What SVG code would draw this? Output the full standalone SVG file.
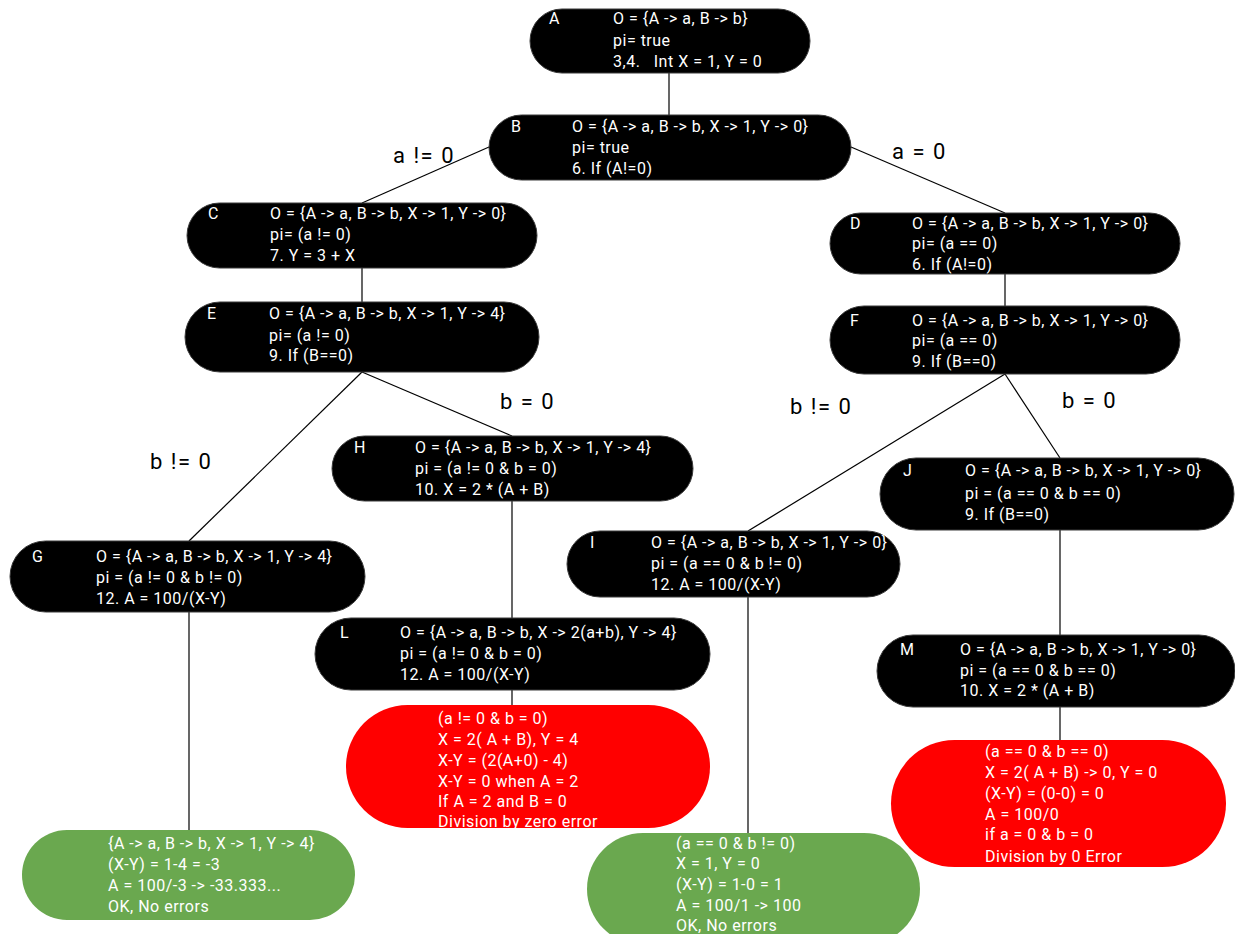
<svg xmlns="http://www.w3.org/2000/svg" width="1235" height="934" viewBox="0 0 1235 934">
  <style>
    .node { fill: #000; stroke: #3a3a3a; stroke-width: 1; }
    .bad { fill: #ff0000; }
    .ok { fill: #6aa84f; }
    .t { font-family: Roboto, "Liberation Sans", sans-serif; font-size: 16px; letter-spacing: 0.5px; fill: #fff; }
    .edge { stroke: #000; stroke-width: 1.2; fill: none; }
    .lbl { font-family: Roboto, "Liberation Sans", sans-serif; font-size: 22px; letter-spacing: 1.5px; fill: #000; }
  </style>
  <rect width="1235" height="934" fill="#fff"/>

  <!-- connectors -->
  <g id="connectors">
    <line class="edge" x1="669" y1="73" x2="669" y2="115"/>
    <line class="edge" x1="489" y1="147" x2="362" y2="203"/>
    <line class="edge" x1="851" y1="147" x2="1005" y2="213"/>
    <line class="edge" x1="362" y1="268" x2="362" y2="302"/>
    <line class="edge" x1="1005" y1="274" x2="1005" y2="306"/>
    <line class="edge" x1="362" y1="372" x2="189" y2="541"/>
    <line class="edge" x1="362" y1="372" x2="512" y2="436"/>
    <line class="edge" x1="1005" y1="374" x2="748" y2="531"/>
    <line class="edge" x1="1005" y1="374" x2="1060" y2="458"/>
    <line class="edge" x1="512" y1="501" x2="512" y2="618"/>
    <line class="edge" x1="512" y1="690" x2="512" y2="705"/>
    <line class="edge" x1="1060" y1="530" x2="1060" y2="635"/>
    <line class="edge" x1="1060" y1="707" x2="1060" y2="740"/>
    <line class="edge" x1="189" y1="612" x2="189" y2="830"/>
    <line class="edge" x1="748" y1="597" x2="748" y2="833"/>
    <text class="lbl" x="393" y="163">a != 0</text>
    <text class="lbl" x="892" y="159">a = 0</text>
    <text class="lbl" x="500" y="409">b = 0</text>
    <text class="lbl" x="150" y="469">b != 0</text>
    <text class="lbl" x="790" y="414">b != 0</text>
    <text class="lbl" x="1062" y="408">b = 0</text>
  </g>

  <g id="nodeA">
    <rect class="node" x="530" y="9" width="280" height="64" rx="32"/>
    <text class="t" x="549" y="24">A</text>
    <text class="t" x="613" y="24">O = {A -&gt; a, B -&gt; b}</text>
    <text class="t" x="613" y="46">pi= true</text>
    <text class="t" x="613" y="67">3,4.&#160;&#160; Int X = 1, Y = 0</text>
  </g>

  <g id="nodeB">
    <rect class="node" x="489" y="115" width="362" height="65" rx="32.5"/>
    <text class="t" x="511" y="132">B</text>
    <text class="t" x="572" y="132">O = {A -&gt; a, B -&gt; b, X -&gt; 1, Y -&gt; 0}</text>
    <text class="t" x="572" y="153">pi= true</text>
    <text class="t" x="572" y="174">6. If (A!=0)</text>
  </g>

  <g id="nodeC">
    <rect class="node" x="187" y="203" width="350" height="65" rx="32.5"/>
    <text class="t" x="208" y="219">C</text>
    <text class="t" x="270" y="219">O = {A -&gt; a, B -&gt; b, X -&gt; 1, Y -&gt; 0}</text>
    <text class="t" x="270" y="240">pi= (a != 0)</text>
    <text class="t" x="270" y="261">7. Y = 3 + X</text>
  </g>

  <g id="nodeD">
    <rect class="node" x="830" y="213" width="350" height="61" rx="30.5"/>
    <text class="t" x="850" y="229">D</text>
    <text class="t" x="912" y="229">O = {A -&gt; a, B -&gt; b, X -&gt; 1, Y -&gt; 0}</text>
    <text class="t" x="912" y="249">pi= (a == 0)</text>
    <text class="t" x="912" y="270">6. If (A!=0)</text>
  </g>

  <g id="nodeE">
    <rect class="node" x="185" y="302" width="354" height="70" rx="35"/>
    <text class="t" x="207" y="319">E</text>
    <text class="t" x="269" y="319">O = {A -&gt; a, B -&gt; b, X -&gt; 1, Y -&gt; 4}</text>
    <text class="t" x="269" y="341">pi= (a != 0)</text>
    <text class="t" x="269" y="361">9. If (B==0)</text>
  </g>

  <g id="nodeF">
    <rect class="node" x="830" y="306" width="350" height="68" rx="34"/>
    <text class="t" x="850" y="326">F</text>
    <text class="t" x="912" y="326">O = {A -&gt; a, B -&gt; b, X -&gt; 1, Y -&gt; 0}</text>
    <text class="t" x="912" y="346">pi= (a == 0)</text>
    <text class="t" x="912" y="367">9. If (B==0)</text>
  </g>

  <g id="nodeH">
    <rect class="node" x="332" y="436" width="361" height="65" rx="32.5"/>
    <text class="t" x="354" y="453">H</text>
    <text class="t" x="415" y="453">O = {A -&gt; a, B -&gt; b, X -&gt; 1, Y -&gt; 4}</text>
    <text class="t" x="415" y="474">pi = (a != 0 &amp; b = 0)</text>
    <text class="t" x="415" y="495">10. X = 2 * (A + B)</text>
  </g>

  <g id="nodeG">
    <rect class="node" x="10" y="541" width="355" height="71" rx="35.5"/>
    <text class="t" x="32" y="562">G</text>
    <text class="t" x="96" y="562">O = {A -&gt; a, B -&gt; b, X -&gt; 1, Y -&gt; 4}</text>
    <text class="t" x="96" y="583">pi = (a != 0 &amp; b != 0)</text>
    <text class="t" x="96" y="604">12. A = 100/(X-Y)</text>
  </g>

  <g id="nodeJ">
    <rect class="node" x="880" y="458" width="354" height="72" rx="36"/>
    <text class="t" x="903" y="476">J</text>
    <text class="t" x="965" y="476">O = {A -&gt; a, B -&gt; b, X -&gt; 1, Y -&gt; 0}</text>
    <text class="t" x="965" y="499">pi = (a == 0 &amp; b == 0)</text>
    <text class="t" x="965" y="520">9. If (B==0)</text>
  </g>

  <g id="nodeI">
    <rect class="node" x="567" y="531" width="333" height="66" rx="33"/>
    <text class="t" x="590" y="548">I</text>
    <text class="t" x="651" y="548">O = {A -&gt; a, B -&gt; b, X -&gt; 1, Y -&gt; 0}</text>
    <text class="t" x="651" y="569">pi = (a == 0 &amp; b != 0)</text>
    <text class="t" x="651" y="590">12. A = 100/(X-Y)</text>
  </g>

  <g id="nodeL">
    <rect class="node" x="315" y="618" width="395" height="72" rx="36"/>
    <text class="t" x="340" y="638">L</text>
    <text class="t" x="400" y="638">O = {A -&gt; a, B -&gt; b, X -&gt; 2(a+b), Y -&gt; 4}</text>
    <text class="t" x="400" y="659">pi = (a != 0 &amp; b = 0)</text>
    <text class="t" x="400" y="680">12. A = 100/(X-Y)</text>
  </g>

  <g id="nodeM">
    <rect class="node" x="877" y="635" width="358" height="72" rx="36"/>
    <text class="t" x="900" y="655">M</text>
    <text class="t" x="960" y="655">O = {A -&gt; a, B -&gt; b, X -&gt; 1, Y -&gt; 0}</text>
    <text class="t" x="960" y="676">pi = (a == 0 &amp; b == 0)</text>
    <text class="t" x="960" y="696">10. X = 2 * (A + B)</text>
  </g>

  <g id="resultL">
    <rect class="bad" x="346" y="705" width="364" height="123" rx="61.5"/>
    <text class="t" x="438" y="724">(a != 0 &amp; b = 0)</text>
    <text class="t" x="438" y="745">X = 2( A + B), Y = 4</text>
    <text class="t" x="438" y="766">X-Y = (2(A+0) - 4)</text>
    <text class="t" x="438" y="787">X-Y = 0 when A = 2</text>
    <text class="t" x="438" y="807">If A = 2 and B = 0</text>
    <text class="t" x="438" y="827">Division by zero error</text>
  </g>

  <g id="resultM">
    <rect class="bad" x="891" y="740" width="335" height="127" rx="63.5"/>
    <text class="t" x="985" y="757">(a == 0 &amp; b == 0)</text>
    <text class="t" x="985" y="778">X = 2( A + B) -&gt; 0, Y = 0</text>
    <text class="t" x="985" y="799">(X-Y) = (0-0) = 0</text>
    <text class="t" x="985" y="820">A = 100/0</text>
    <text class="t" x="985" y="840">if a = 0 &amp; b = 0</text>
    <text class="t" x="985" y="862">Division by 0 Error</text>
  </g>

  <g id="resultG">
    <rect class="ok" x="22" y="830" width="333" height="90" rx="45"/>
    <text class="t" x="108" y="849">{A -&gt; a, B -&gt; b, X -&gt; 1, Y -&gt; 4}</text>
    <text class="t" x="108" y="870">(X-Y) = 1-4 = -3</text>
    <text class="t" x="108" y="891">A = 100/-3 -&gt; -33.333...</text>
    <text class="t" x="108" y="912">OK, No errors</text>
  </g>

  <g id="resultI">
    <rect class="ok" x="587" y="833" width="333" height="112" rx="56"/>
    <text class="t" x="676" y="849">(a == 0 &amp; b != 0)</text>
    <text class="t" x="676" y="869">X = 1, Y = 0</text>
    <text class="t" x="676" y="890">(X-Y) = 1-0 = 1</text>
    <text class="t" x="676" y="911">A = 100/1 -&gt; 100</text>
    <text class="t" x="676" y="931">OK, No errors</text>
  </g>
</svg>
